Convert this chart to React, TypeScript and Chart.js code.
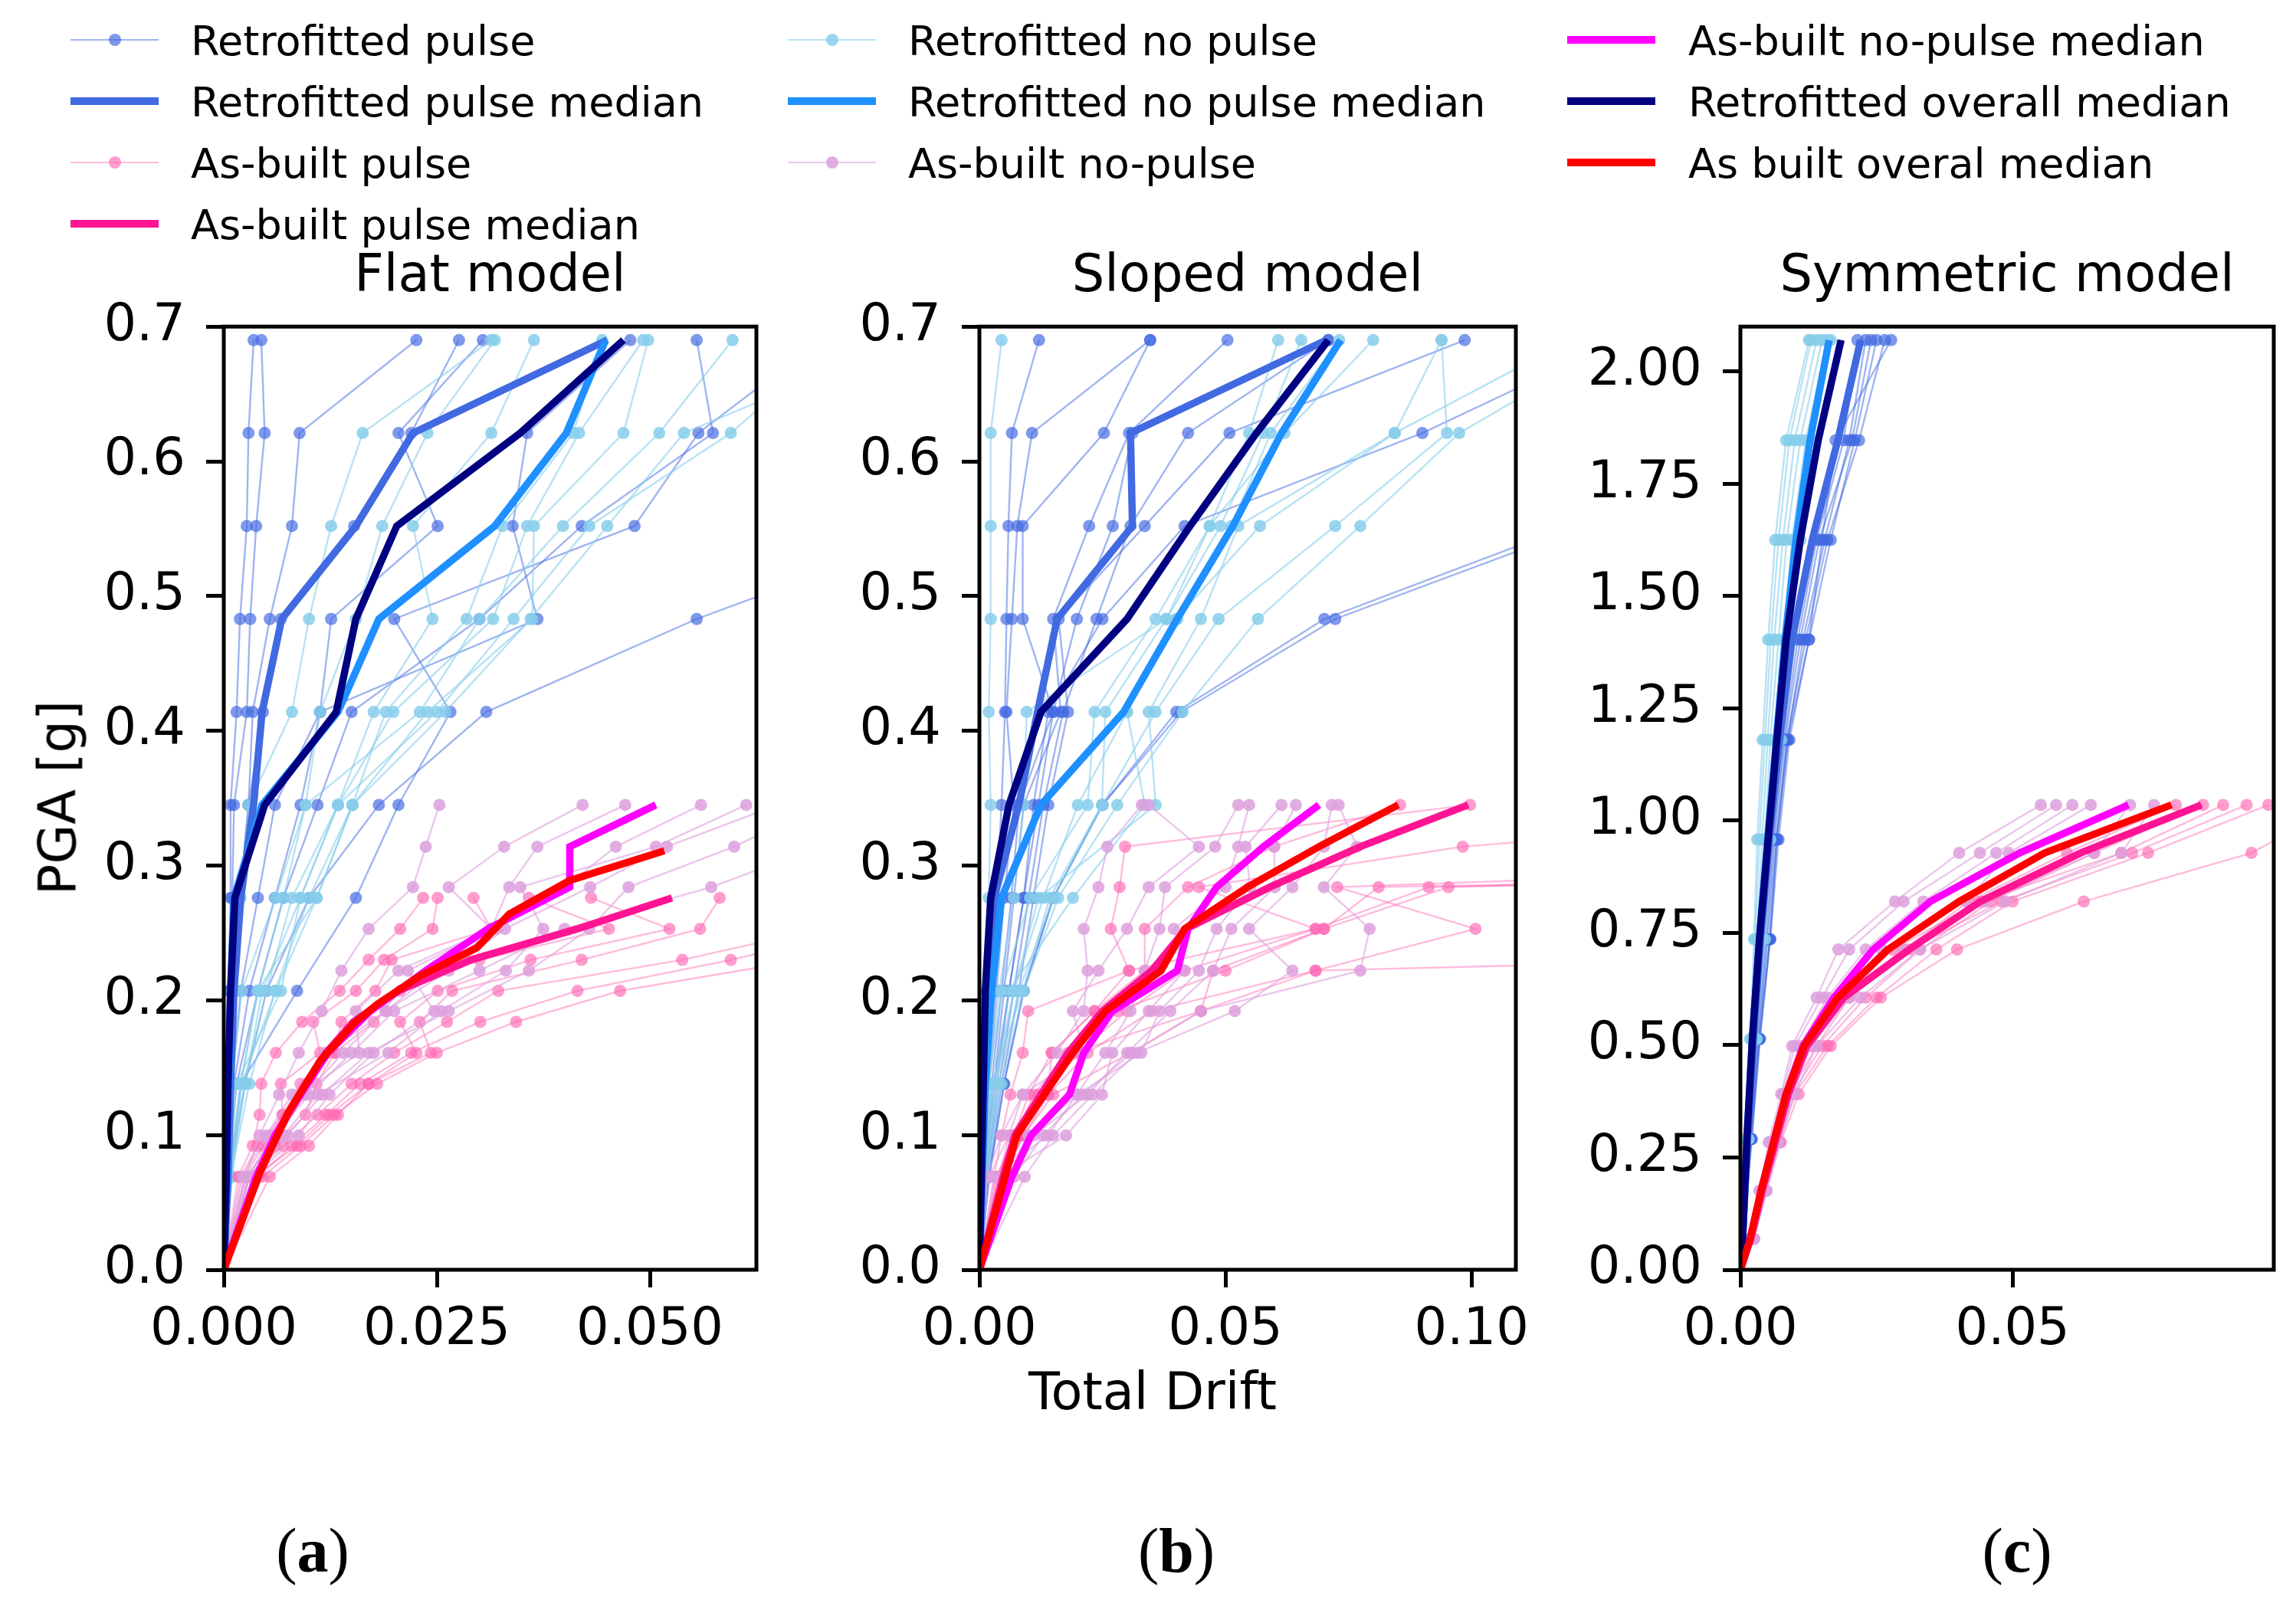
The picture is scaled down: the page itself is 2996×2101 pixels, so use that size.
import React, { useEffect, useRef } from "react";
import { Chart, registerables } from "chart.js";
Chart.register(...registerables);

// ---------------- PGA levels [g] (first entry = origin) ----------------
const RETRO_LEVELS_AB = [0, 0.069, 0.138, 0.207, 0.276, 0.345, 0.414, 0.483, 0.552, 0.621, 0.69];
const RETRO_LEVELS_C = [0, 0.069, 0.291, 0.514, 0.736, 0.958, 1.18, 1.403, 1.625, 1.847, 2.07];
const ASB_PULSE_LEVELS_A = [0, 0.069, 0.092, 0.115, 0.138, 0.161, 0.184, 0.207, 0.23, 0.253, 0.276];
const ASB_LEVELS_AB = [0, 0.069, 0.0997, 0.13, 0.161, 0.192, 0.222, 0.253, 0.284, 0.314, 0.345];
const ASB_LEVELS_C = [0, 0.069, 0.176, 0.284, 0.391, 0.498, 0.606, 0.713, 0.82, 0.928, 1.035];

// ---------------- tick values ----------------
const X_TICKS_A = [0, 0.025, 0.05];
const X_TICKS_B = [0, 0.05, 0.1];
const X_TICKS_C = [0, 0.05];
const Y_TICKS_AB = [0, 0.1, 0.2, 0.3, 0.4, 0.5, 0.6, 0.7];
const Y_TICKS_C = [0, 0.25, 0.5, 0.75, 1.0, 1.25, 1.5, 1.75, 2.0];

// ---------------- Flat model (a): drift per PGA level ----------------
const RETRO_PULSE_A = [
  [0, 0.0002, 0.0004, 0.0006, 0.0008, 0.0008, 0.0015, 0.0019, 0.0027, 0.0029, 0.0035],
  [0, 0.0003, 0.0005, 0.0008, 0.001, 0.0012, 0.0027, 0.0031, 0.0038, 0.0048, 0.0044],
  [0, 0.0003, 0.0006, 0.0008, 0.0019, 0.0029, 0.0034, 0.0054, 0.008, 0.0089, 0.0226],
  [0, 0.0004, 0.0008, 0.0012, 0.0019, 0.0029, 0.0046, 0.0067, 0.0153, 0.022, 0.0276],
  [0, 0.0004, 0.0009, 0.002, 0.004, 0.006, 0.0113, 0.0126, 0.0251, 0.0205, 0.0304],
  [0, 0.0005, 0.0012, 0.003, 0.006, 0.009, 0.0113, 0.0368, 0.0339, 0.0356, 0.0477],
  [0, 0.0006, 0.002, 0.0086, 0.0155, 0.0205, 0.0266, 0.02, 0.0482, 0.0557, 0.07],
  [0, 0.0006, 0.0025, 0.005, 0.01, 0.0182, 0.0308, 0.0555, 0.085],
  [0, 0.0005, 0.0015, 0.004, 0.007, 0.011, 0.015, 0.03, 0.042, 0.0574, 0.0555],
];
const RETRO_NOPULSE_A = [
  [0, 0.0004, 0.0008, 0.001, 0.0019, 0.0029, 0.008, 0.01, 0.0126, 0.0163, 0.0314],
  [0, 0.0005, 0.001, 0.0021, 0.0061, 0.0096, 0.0113, 0.0155, 0.0186, 0.0239, 0.0318],
  [0, 0.0006, 0.0015, 0.0067, 0.009, 0.0134, 0.0176, 0.0245, 0.0222, 0.0314, 0.0364],
  [0, 0.0006, 0.002, 0.004, 0.0109, 0.0151, 0.019, 0.0285, 0.0327, 0.041, 0.0444],
  [0, 0.0007, 0.0025, 0.005, 0.008, 0.0134, 0.0199, 0.0316, 0.0356, 0.0417, 0.0492],
  [0, 0.0008, 0.003, 0.006, 0.01, 0.0151, 0.0239, 0.0362, 0.0364, 0.0469, 0.0498],
  [0, 0.0008, 0.002, 0.004, 0.007, 0.0096, 0.023, 0.03, 0.0398, 0.0511, 0.0597],
  [0, 0.0009, 0.0025, 0.0045, 0.009, 0.0134, 0.025, 0.034, 0.0429, 0.0595, 0.072],
  [0, 0.001, 0.0021, 0.0061, 0.0109, 0.0151, 0.026, 0.036, 0.045, 0.054, 0.08],
];
const ASB_PULSE_A = [
  [0, 0.0017, 0.0034, 0.0042, 0.0044, 0.0061, 0.0092, 0.0136, 0.017, 0.0207, 0.0234],
  [0, 0.002, 0.004, 0.0069, 0.0067, 0.0113, 0.0105, 0.0155, 0.0188, 0.0245, 0.0251],
  [0, 0.0025, 0.0046, 0.0069, 0.009, 0.013, 0.0138, 0.0178, 0.0197, 0.0314, 0.0293],
  [0, 0.003, 0.006, 0.0096, 0.0109, 0.013, 0.0176, 0.0207, 0.03, 0.0452, 0.0358],
  [0, 0.0035, 0.0086, 0.0124, 0.017, 0.0226, 0.0207, 0.0251, 0.036, 0.0523, 0.0431],
  [0, 0.0054, 0.01, 0.0134, 0.017, 0.0243, 0.023, 0.0268, 0.042, 0.0559, 0.0582],
  [0, 0.003, 0.007, 0.011, 0.015, 0.02, 0.0262, 0.0322, 0.0538, 0.07, 0.08],
  [0, 0.004, 0.008, 0.012, 0.016, 0.022, 0.0301, 0.0415, 0.0595, 0.075],
  [0, 0.0045, 0.009, 0.013, 0.018, 0.025, 0.0343, 0.0465, 0.068],
];
const ASB_NOPULSE_A = [
  [0, 0.0025, 0.0042, 0.0065, 0.0088, 0.0115, 0.0138, 0.017, 0.0222, 0.0237, 0.0253],
  [0, 0.003, 0.0055, 0.009, 0.0159, 0.0155, 0.0205, 0.0314, 0.0264, 0.0329, 0.0421],
  [0, 0.0034, 0.0088, 0.0124, 0.0176, 0.0247, 0.0216, 0.0314, 0.0335, 0.0368, 0.0471],
  [0, 0.003, 0.007, 0.011, 0.0193, 0.0255, 0.0331, 0.0375, 0.0348, 0.0507, 0.0613],
  [0, 0.0035, 0.0075, 0.0115, 0.017, 0.0264, 0.0358, 0.0429, 0.0475, 0.0599, 0.07],
  [0, 0.0028, 0.006, 0.01, 0.015, 0.02, 0.03, 0.04, 0.0572, 0.07],
  [0, 0.0022, 0.005, 0.008, 0.012, 0.019, 0.0264, 0.033, 0.043, 0.052, 0.065],
  [0, 0.0026, 0.0065, 0.0095, 0.014, 0.019, 0.025, 0.032, 0.04, 0.046, 0.056],
];
const RETRO_PULSE_MED_A = [0, 0.0005, 0.0008, 0.0012, 0.002, 0.0035, 0.0045, 0.0068, 0.0155, 0.0222, 0.045];
const RETRO_NOPULSE_MED_A = [0, 0.0004, 0.0006, 0.0008, 0.0012, 0.0045, 0.0134, 0.0182, 0.0318, 0.0402, 0.0448];
const RETRO_OVERALL_MED_A = [0, 0.0003, 0.0005, 0.0008, 0.0013, 0.0048, 0.0132, 0.0155, 0.0203, 0.0348, 0.0469];
const ASB_PULSE_MED_A = [0, 0.004, 0.0056, 0.0075, 0.0096, 0.012, 0.0152, 0.0205, 0.029, 0.0415, 0.0526];
const ASB_NOPULSE_MED_A = [0, 0.0038, 0.006, 0.009, 0.0122, 0.0172, 0.0237, 0.031, 0.0406, 0.0406, 0.0507];
const ASB_OVERALL_MED_A_X = [0, 0.0042, 0.0075, 0.0113, 0.0153, 0.018, 0.023, 0.0297, 0.0335, 0.0406, 0.0517];
const ASB_OVERALL_MED_A_Y = [0, 0.0716, 0.116, 0.155, 0.183, 0.197, 0.218, 0.239, 0.264, 0.289, 0.311];

// ---------------- Sloped model (b) ----------------
const RETRO_PULSE_B = [
  [0, 0.0006, 0.0015, 0.0025, 0.0035, 0.0045, 0.0052, 0.0055, 0.0059, 0.0066, 0.0121],
  [0, 0.0008, 0.002, 0.0035, 0.005, 0.007, 0.0055, 0.0066, 0.0077, 0.0107, 0.0347],
  [0, 0.001, 0.0025, 0.0045, 0.0065, 0.0081, 0.015, 0.0088, 0.0088, 0.0253, 0.0347],
  [0, 0.0012, 0.003, 0.005, 0.007, 0.009, 0.0165, 0.015, 0.0223, 0.0304, 0.0504],
  [0, 0.0015, 0.0035, 0.006, 0.009, 0.012, 0.015, 0.0198, 0.0271, 0.0311, 0.0709],
  [0, 0.0015, 0.004, 0.007, 0.01, 0.013, 0.017, 0.0238, 0.0307, 0.0424, 0.0709],
  [0, 0.0018, 0.0045, 0.008, 0.011, 0.014, 0.018, 0.0161, 0.0336, 0.0508, 0.0986],
  [0, 0.002, 0.005, 0.009, 0.015, 0.025, 0.04, 0.0701, 0.12],
  [0, 0.002, 0.005, 0.009, 0.015, 0.025, 0.041, 0.0723, 0.123],
  [0, 0.001, 0.003, 0.006, 0.009, 0.011, 0.014, 0.025, 0.0417, 0.09, 0.13],
];
const RETRO_NOPULSE_B = [
  [0, 0.0005, 0.001, 0.0015, 0.0019, 0.0023, 0.0019, 0.0023, 0.0023, 0.0023, 0.0045],
  [0, 0.0008, 0.0019, 0.0045, 0.0103, 0.022, 0.0234, 0.0358, 0.0468, 0.0548, 0.0607],
  [0, 0.001, 0.0025, 0.0088, 0.0143, 0.0249, 0.0256, 0.038, 0.049, 0.0577, 0.0654],
  [0, 0.0012, 0.003, 0.006, 0.019, 0.0336, 0.03, 0.0402, 0.0512, 0.0592, 0.0731],
  [0, 0.0012, 0.0035, 0.007, 0.012, 0.0358, 0.0344, 0.045, 0.0526, 0.0844, 0.0939],
  [0, 0.0015, 0.004, 0.008, 0.015, 0.025, 0.0358, 0.0486, 0.0723, 0.095, 0.0939],
  [0, 0.0015, 0.0045, 0.009, 0.016, 0.028, 0.0413, 0.0566, 0.0774, 0.0975, 0.13],
  [0, 0.001, 0.003, 0.007, 0.013, 0.02, 0.03, 0.04, 0.057, 0.0844, 0.12],
  [0, 0.0008, 0.002, 0.004, 0.007, 0.009, 0.0096, 0.038, 0.0468, 0.062, 0.08],
];
const ASB_PULSE_B = [
  [0, 0.003, 0.0045, 0.0063, 0.0088, 0.0099, 0.0304, 0.0267, 0.0285, 0.0296, 0.0997],
  [0, 0.004, 0.006, 0.0139, 0.0147, 0.0234, 0.0336, 0.0336, 0.0424, 0.0599, 0.0855],
  [0, 0.0035, 0.007, 0.01, 0.0147, 0.0234, 0.0304, 0.0683, 0.0446, 0.0982, 0.2],
  [0, 0.0045, 0.008, 0.012, 0.019, 0.045, 0.0683, 0.1008, 0.0727, 0.3],
  [0, 0.005, 0.009, 0.015, 0.0307, 0.045, 0.0475, 0.07, 0.0811, 0.5],
  [0, 0.004, 0.0085, 0.013, 0.02, 0.03, 0.0417, 0.0683, 0.0913, 0.5],
  [0, 0.0045, 0.009, 0.014, 0.022, 0.035, 0.0683, 0.4],
  [0, 0.0035, 0.0075, 0.011, 0.018, 0.028, 0.05, 0.07, 0.0953, 0.4],
];
const ASB_NOPULSE_B = [
  [0, 0.0015, 0.0045, 0.0088, 0.0158, 0.0212, 0.022, 0.0212, 0.0242, 0.026, 0.033],
  [0, 0.002, 0.006, 0.0088, 0.0212, 0.019, 0.0242, 0.03, 0.0344, 0.0446, 0.0344],
  [0, 0.003, 0.0139, 0.0198, 0.0256, 0.0307, 0.0336, 0.0366, 0.0377, 0.0479, 0.0526],
  [0, 0.004, 0.0176, 0.0249, 0.027, 0.0344, 0.0417, 0.0395, 0.05, 0.0526, 0.0548],
  [0, 0.005, 0.01, 0.02, 0.0329, 0.0366, 0.0446, 0.0482, 0.055, 0.0541, 0.0614],
  [0, 0.006, 0.011, 0.022, 0.03, 0.0388, 0.0475, 0.0512, 0.06, 0.0599, 0.0643],
  [0, 0.0092, 0.015, 0.023, 0.032, 0.0519, 0.0636, 0.0548, 0.0636, 0.07, 0.0716],
  [0, 0.007, 0.013, 0.021, 0.031, 0.045, 0.0774, 0.0793, 0.07, 0.0767, 0.073],
];
const RETRO_PULSE_MED_B = [0, 0.0004, 0.0008, 0.0015, 0.003, 0.008, 0.0118, 0.0158, 0.0311, 0.0307, 0.0705];
const RETRO_NOPULSE_MED_B = [0, 0.0006, 0.0012, 0.0025, 0.0045, 0.0125, 0.0293, 0.0402, 0.0515, 0.0614, 0.0734];
const RETRO_OVERALL_MED_B = [0, 0.0004, 0.0008, 0.0012, 0.0023, 0.006, 0.0125, 0.03, 0.0428, 0.0563, 0.0709];
const ASB_PULSE_MED_B = [0, 0.0048, 0.0072, 0.0125, 0.018, 0.025, 0.035, 0.042, 0.059, 0.0774, 0.0993];
const ASB_NOPULSE_MED_B = [0, 0.0066, 0.0105, 0.0183, 0.0212, 0.027, 0.0402, 0.0424, 0.0482, 0.0577, 0.069];
const ASB_OVERALL_MED_B = [0, 0.0052, 0.0076, 0.0132, 0.019, 0.0256, 0.0369, 0.0417, 0.0545, 0.069, 0.0851];

// ---------------- Symmetric model (c) ----------------
const RETRO_PULSE_C = [
  [0, 0.0004, 0.0015, 0.003, 0.0045, 0.006, 0.008, 0.0105, 0.014, 0.019, 0.0215],
  [0, 0.0004, 0.0018, 0.0033, 0.005, 0.0065, 0.0087, 0.0115, 0.0155, 0.02, 0.023],
  [0, 0.0005, 0.002, 0.0035, 0.0054, 0.0067, 0.0087, 0.0126, 0.0166, 0.021, 0.025],
  [0, 0.0005, 0.002, 0.0035, 0.0054, 0.0067, 0.0085, 0.012, 0.016, 0.0218, 0.0265],
  [0, 0.0005, 0.0021, 0.0036, 0.0055, 0.007, 0.009, 0.0126, 0.015, 0.0175, 0.0277],
  [0, 0.0004, 0.0017, 0.0032, 0.0048, 0.0062, 0.0082, 0.011, 0.0145, 0.0205, 0.024],
];
const RETRO_NOPULSE_C = [
  [0, 0.0002, 0.0009, 0.0018, 0.0025, 0.0031, 0.0041, 0.0051, 0.0064, 0.0084, 0.0126],
  [0, 0.0003, 0.001, 0.002, 0.0027, 0.0035, 0.0045, 0.0056, 0.007, 0.009, 0.013],
  [0, 0.0003, 0.0011, 0.0022, 0.003, 0.004, 0.005, 0.0062, 0.0078, 0.01, 0.014],
  [0, 0.0003, 0.0012, 0.0025, 0.0035, 0.0045, 0.0055, 0.007, 0.0085, 0.011, 0.015],
  [0, 0.0004, 0.0014, 0.0028, 0.004, 0.005, 0.0065, 0.008, 0.0095, 0.012, 0.016],
  [0, 0.0004, 0.0015, 0.003, 0.0045, 0.0055, 0.0075, 0.009, 0.011, 0.013, 0.0166],
];
const ASB_PULSE_C = [
  [0, 0.002, 0.004, 0.006, 0.008, 0.012, 0.018, 0.03, 0.042, 0.06, 0.08],
  [0, 0.0022, 0.0045, 0.007, 0.0095, 0.015, 0.023, 0.033, 0.046, 0.065, 0.085],
  [0, 0.0025, 0.0048, 0.0074, 0.0107, 0.0166, 0.0258, 0.0398, 0.0631, 0.0939, 0.11],
  [0, 0.002, 0.0042, 0.0065, 0.009, 0.014, 0.02, 0.031, 0.048, 0.072, 0.093],
  [0, 0.0024, 0.0046, 0.0072, 0.01, 0.016, 0.025, 0.036, 0.05, 0.0749, 0.097],
  [0, 0.0021, 0.004, 0.006, 0.0085, 0.013, 0.019, 0.028, 0.044, 0.07, 0.0887],
];
const ASB_NOPULSE_C = [
  [0, 0.0018, 0.0035, 0.0052, 0.0075, 0.0095, 0.014, 0.018, 0.0284, 0.0402, 0.0552],
  [0, 0.002, 0.0038, 0.0055, 0.0078, 0.01, 0.015, 0.02, 0.03, 0.044, 0.058],
  [0, 0.0022, 0.004, 0.006, 0.0081, 0.011, 0.016, 0.023, 0.0336, 0.047, 0.061],
  [0, 0.0024, 0.0042, 0.0064, 0.009, 0.012, 0.018, 0.026, 0.0415, 0.0493, 0.0644],
  [0, 0.0025, 0.0045, 0.0068, 0.0095, 0.013, 0.02, 0.03, 0.045, 0.065, 0.0716],
  [0, 0.0025, 0.0048, 0.007, 0.01, 0.014, 0.022, 0.033, 0.0487, 0.07, 0.076],
];
const RETRO_PULSE_MED_C = [0, 0.0004, 0.0013, 0.0024, 0.0037, 0.0053, 0.0072, 0.0095, 0.0132, 0.0179, 0.0221];
const RETRO_NOPULSE_MED_C = [0, 0.0004, 0.0012, 0.0022, 0.0035, 0.005, 0.0066, 0.0082, 0.0102, 0.0128, 0.0163];
const RETRO_OVERALL_MED_C = [0, 0.0004, 0.0012, 0.0022, 0.0035, 0.0051, 0.0067, 0.0084, 0.011, 0.0143, 0.0185];
const ASB_PULSE_MED_C = [0, 0.0019, 0.004, 0.0064, 0.0088, 0.0122, 0.019, 0.031, 0.0441, 0.0625, 0.0847];
const ASB_NOPULSE_MED_C = [0, 0.0018, 0.0038, 0.0061, 0.0084, 0.0115, 0.0172, 0.0244, 0.0349, 0.0513, 0.0713];
const ASB_OVERALL_MED_C = [0, 0.0018, 0.0038, 0.0061, 0.0084, 0.0117, 0.0179, 0.0271, 0.0402, 0.0559, 0.0792];

// ---------------- styles ----------------
const FONT = "'DejaVu Sans', sans-serif";
const STYLE = {
  retroPulse: { line: "rgba(65,105,225,0.5)", point: "rgba(65,105,225,0.68)" },
  retroNoPulse: { line: "rgba(135,206,235,0.6)", point: "rgba(135,206,235,0.85)" },
  asbPulse: { line: "rgba(255,105,180,0.45)", point: "rgba(255,105,180,0.65)" },
  asbNoPulse: { line: "rgba(221,160,221,0.6)", point: "rgba(221,160,221,0.85)" },
};
const MED = {
  retroPulse: "#4169E1",
  retroNoPulse: "#1E90FF",
  asbPulse: "#FF1493",
  asbNoPulse: "#FF00FF",
  retroAll: "#000080",
  asbAll: "#FF0000",
};

const PLOT_TOP = 419;
const PLOT_BOTTOM = 1657;
const Y_AXIS_W = 240;
const X_AXIS_H = 150;
const PAD_T = 60;
const PAD_R = 60;
const MARKER_R = 8;
const MEDIAN_W = 9.5;

function toPts(xs: number[], ys: number[]) {
  return xs.map((x, i) => ({ x, y: ys[i] }));
}

function recordSets(records: number[][], levels: number[], st: { line: string; point: string }) {
  return records.map((r) => ({
    data: toPts(r, levels),
    borderColor: st.line,
    backgroundColor: st.point,
    pointBackgroundColor: st.point,
    pointBorderWidth: 0,
    pointRadius: (ctx: any) => (ctx.dataIndex === 0 ? 0 : MARKER_R),
    pointHoverRadius: 0,
    borderWidth: 2.4,
    tension: 0,
    fill: false,
    clip: 0,
  }));
}

function medianSet(xs: number[], ys: number[], color: string) {
  return {
    data: toPts(xs, ys),
    borderColor: color,
    backgroundColor: color,
    pointRadius: 0,
    pointHoverRadius: 0,
    borderWidth: MEDIAN_W,
    tension: 0,
    fill: false,
    clip: 0,
    borderJoinStyle: "miter" as const,
  };
}

type Panel = {
  title: string;
  label: string;
  left: number;
  right: number;
  xMax: number;
  yMax: number;
  xTicks: number[];
  yTicks: number[];
  xDec: number;
  yDec: number;
  datasets: any[];
};

const PANELS: Panel[] = [
  {
    title: "Flat model",
    label: "a",
    left: 292,
    right: 987,
    xMax: 0.0625,
    yMax: 0.7,
    xTicks: X_TICKS_A,
    yTicks: Y_TICKS_AB,
    xDec: 3,
    yDec: 1,
    datasets: [
      ...recordSets(RETRO_PULSE_A, RETRO_LEVELS_AB, STYLE.retroPulse),
      ...recordSets(RETRO_NOPULSE_A, RETRO_LEVELS_AB, STYLE.retroNoPulse),
      ...recordSets(ASB_PULSE_A, ASB_PULSE_LEVELS_A, STYLE.asbPulse),
      ...recordSets(ASB_NOPULSE_A, ASB_LEVELS_AB, STYLE.asbNoPulse),
      medianSet(RETRO_PULSE_MED_A, RETRO_LEVELS_AB, MED.retroPulse),
      medianSet(RETRO_NOPULSE_MED_A, RETRO_LEVELS_AB, MED.retroNoPulse),
      medianSet(ASB_PULSE_MED_A, ASB_PULSE_LEVELS_A, MED.asbPulse),
      medianSet(ASB_NOPULSE_MED_A, ASB_LEVELS_AB, MED.asbNoPulse),
      medianSet(RETRO_OVERALL_MED_A, RETRO_LEVELS_AB, MED.retroAll),
      medianSet(ASB_OVERALL_MED_A_X, ASB_OVERALL_MED_A_Y, MED.asbAll),
    ],
  },
  {
    title: "Sloped model",
    label: "b",
    left: 1278,
    right: 1978,
    xMax: 0.109,
    yMax: 0.7,
    xTicks: X_TICKS_B,
    yTicks: Y_TICKS_AB,
    xDec: 2,
    yDec: 1,
    datasets: [
      ...recordSets(RETRO_PULSE_B, RETRO_LEVELS_AB, STYLE.retroPulse),
      ...recordSets(RETRO_NOPULSE_B, RETRO_LEVELS_AB, STYLE.retroNoPulse),
      ...recordSets(ASB_PULSE_B, ASB_LEVELS_AB, STYLE.asbPulse),
      ...recordSets(ASB_NOPULSE_B, ASB_LEVELS_AB, STYLE.asbNoPulse),
      medianSet(RETRO_PULSE_MED_B, RETRO_LEVELS_AB, MED.retroPulse),
      medianSet(RETRO_NOPULSE_MED_B, RETRO_LEVELS_AB, MED.retroNoPulse),
      medianSet(ASB_PULSE_MED_B, ASB_LEVELS_AB, MED.asbPulse),
      medianSet(ASB_NOPULSE_MED_B, ASB_LEVELS_AB, MED.asbNoPulse),
      medianSet(RETRO_OVERALL_MED_B, RETRO_LEVELS_AB, MED.retroAll),
      medianSet(ASB_OVERALL_MED_B, ASB_LEVELS_AB, MED.asbAll),
    ],
  },
  {
    title: "Symmetric model",
    label: "c",
    left: 2271,
    right: 2967,
    xMax: 0.098,
    yMax: 2.1,
    xTicks: X_TICKS_C,
    yTicks: Y_TICKS_C,
    xDec: 2,
    yDec: 2,
    datasets: [
      ...recordSets(RETRO_PULSE_C, RETRO_LEVELS_C, STYLE.retroPulse),
      ...recordSets(RETRO_NOPULSE_C, RETRO_LEVELS_C, STYLE.retroNoPulse),
      ...recordSets(ASB_PULSE_C, ASB_LEVELS_C, STYLE.asbPulse),
      ...recordSets(ASB_NOPULSE_C, ASB_LEVELS_C, STYLE.asbNoPulse),
      medianSet(RETRO_PULSE_MED_C, RETRO_LEVELS_C, MED.retroPulse),
      medianSet(RETRO_NOPULSE_MED_C, RETRO_LEVELS_C, MED.retroNoPulse),
      medianSet(ASB_PULSE_MED_C, ASB_LEVELS_C, MED.asbPulse),
      medianSet(ASB_NOPULSE_MED_C, ASB_LEVELS_C, MED.asbNoPulse),
      medianSet(RETRO_OVERALL_MED_C, RETRO_LEVELS_C, MED.retroAll),
      medianSet(ASB_OVERALL_MED_C, ASB_LEVELS_C, MED.asbAll),
    ],
  },
];

const framePlugin = {
  id: "frame",
  afterDatasetsDraw(chart: any) {
    const { ctx, chartArea } = chart;
    ctx.save();
    ctx.strokeStyle = "#000";
    ctx.lineWidth = 5;
    ctx.strokeRect(chartArea.left, chartArea.top, chartArea.right - chartArea.left, chartArea.bottom - chartArea.top);
    ctx.restore();
  },
};

function makeConfig(p: Panel): any {
  const n = p.datasets.length;
  const datasets = p.datasets.map((d, i) => ({ ...d, order: n - i }));
  const tickFont = { family: FONT, size: 67 };
  return {
    type: "line",
    data: { datasets },
    plugins: [framePlugin],
    options: {
      animation: false,
      responsive: false,
      devicePixelRatio: 1,
      events: [],
      layout: { padding: { left: 0, top: PAD_T, right: PAD_R, bottom: 0 } },
      plugins: { legend: { display: false }, tooltip: { enabled: false }, title: { display: false } },
      scales: {
        x: {
          type: "linear",
          min: 0,
          max: p.xMax,
          afterBuildTicks: (s: any) => {
            s.ticks = p.xTicks.map((v) => ({ value: v }));
          },
          afterFit: (s: any) => {
            s.height = X_AXIS_H;
          },
          ticks: {
            callback: (v: any) => Number(v).toFixed(p.xDec),
            font: tickFont,
            color: "#000",
            padding: 16,
            maxRotation: 0,
            minRotation: 0,
            autoSkip: false,
          },
          grid: { display: true, drawOnChartArea: false, drawTicks: true, tickLength: 23, tickWidth: 5, tickColor: "#000", color: "#000" },
          border: { display: false },
        },
        y: {
          type: "linear",
          min: 0,
          max: p.yMax,
          afterBuildTicks: (s: any) => {
            s.ticks = p.yTicks.map((v) => ({ value: v }));
          },
          afterFit: (s: any) => {
            s.width = Y_AXIS_W;
          },
          ticks: {
            callback: (v: any) => Number(v).toFixed(p.yDec),
            font: tickFont,
            color: "#000",
            padding: 27,
            autoSkip: false,
          },
          grid: { display: true, drawOnChartArea: false, drawTicks: true, tickLength: 23, tickWidth: 5, tickColor: "#000", color: "#000" },
          border: { display: false },
        },
      },
    },
  };
}

type LegendItem = { text: string; kind: "record" | "median"; line: string; point?: string };
const LEGEND_COLUMNS: LegendItem[][] = [
  [
    { text: "Retrofitted pulse", kind: "record", line: STYLE.retroPulse.line, point: STYLE.retroPulse.point },
    { text: "Retrofitted pulse median", kind: "median", line: MED.retroPulse },
    { text: "As-built pulse", kind: "record", line: STYLE.asbPulse.line, point: STYLE.asbPulse.point },
    { text: "As-built pulse median", kind: "median", line: MED.asbPulse },
  ],
  [
    { text: "Retrofitted no pulse", kind: "record", line: STYLE.retroNoPulse.line, point: STYLE.retroNoPulse.point },
    { text: "Retrofitted no pulse median", kind: "median", line: MED.retroNoPulse },
    { text: "As-built no-pulse", kind: "record", line: STYLE.asbNoPulse.line, point: STYLE.asbNoPulse.point },
  ],
  [
    { text: "As-built no-pulse median", kind: "median", line: MED.asbNoPulse },
    { text: "Retrofitted overall median", kind: "median", line: MED.retroAll },
    { text: "As built overal median", kind: "median", line: MED.asbAll },
  ],
];
const LEGEND_HANDLE_X = [92, 1028, 2045];
const LEGEND_TEXT_X = [249, 1185, 2203];
const LEGEND_ROW_Y = [52, 132, 212, 292];

function Legend() {
  const out: any[] = [];
  LEGEND_COLUMNS.forEach((col, ci) => {
    col.forEach((it, ri) => {
      const cy = LEGEND_ROW_Y[ri];
      const hx = LEGEND_HANDLE_X[ci];
      const lw = it.kind === "median" ? MEDIAN_W : 2.4;
      out.push(
        <div
          key={`h${ci}-${ri}`}
          style={{ position: "absolute", left: hx, top: cy - lw / 2, width: 115, height: lw, background: it.line }}
        />
      );
      if (it.kind === "record") {
        out.push(
          <div
            key={`m${ci}-${ri}`}
            style={{
              position: "absolute",
              left: hx + 57.5 - MARKER_R,
              top: cy - MARKER_R,
              width: MARKER_R * 2,
              height: MARKER_R * 2,
              borderRadius: "50%",
              background: it.point,
            }}
          />
        );
      }
      out.push(
        <div
          key={`t${ci}-${ri}`}
          style={{
            position: "absolute",
            left: LEGEND_TEXT_X[ci],
            top: cy - 25,
            fontFamily: FONT,
            fontSize: 54,
            lineHeight: "54px",
            whiteSpace: "nowrap",
            color: "#000",
          }}
        >
          {it.text}
        </div>
      );
    });
  });
  return <>{out}</>;
}

const PANEL_LABEL_X = [408, 1535, 2632];

export default function App() {
  const r0 = useRef<HTMLCanvasElement>(null);
  const r1 = useRef<HTMLCanvasElement>(null);
  const r2 = useRef<HTMLCanvasElement>(null);
  const refs = [r0, r1, r2];

  useEffect(() => {
    const charts: Chart[] = [];
    PANELS.forEach((p, i) => {
      const c = refs[i].current;
      if (c) charts.push(new Chart(c, makeConfig(p)));
    });
    return () => charts.forEach((c) => c.destroy());
  }, []);

  return (
    <div
      style={{
        position: "absolute",
        left: 0,
        top: 0,
        width: 2996,
        height: 2101,
        background: "#fff",
        overflow: "hidden",
        fontFamily: FONT,
        color: "#000",
      }}
    >
      <Legend />
      {PANELS.map((p, i) => {
        const w = p.right - p.left + Y_AXIS_W + PAD_R;
        const h = PLOT_BOTTOM - PLOT_TOP + PAD_T + X_AXIS_H;
        return (
          <canvas
            key={`c${i}`}
            ref={refs[i]}
            width={w}
            height={h}
            style={{ position: "absolute", left: p.left - Y_AXIS_W, top: PLOT_TOP - PAD_T, width: w, height: h }}
          />
        );
      })}
      {PANELS.map((p, i) => (
        <div
          key={`t${i}`}
          style={{
            position: "absolute",
            left: p.left,
            width: p.right - p.left,
            top: 324,
            textAlign: "center",
            fontFamily: FONT,
            fontSize: 67,
            lineHeight: "67px",
            whiteSpace: "nowrap",
          }}
        >
          {p.title}
        </div>
      ))}
      <div
        style={{
          position: "absolute",
          left: 1204,
          width: 600,
          top: 1783,
          textAlign: "center",
          fontFamily: FONT,
          fontSize: 67,
          lineHeight: "67px",
          whiteSpace: "nowrap",
        }}
      >
        Total Drift
      </div>
      <div
        style={{
          position: "absolute",
          left: 76,
          top: 1041,
          transform: "translate(-50%, -50%) rotate(-90deg)",
          fontFamily: FONT,
          fontSize: 67,
          lineHeight: "67px",
          whiteSpace: "nowrap",
        }}
      >
        PGA [g]
      </div>
      {PANELS.map((p, i) => (
        <div
          key={`l${i}`}
          style={{
            position: "absolute",
            left: PANEL_LABEL_X[i] - 150,
            width: 300,
            top: 1983,
            textAlign: "center",
            fontFamily: "'Liberation Serif', 'Times New Roman', serif",
            fontSize: 82,
            lineHeight: "82px",
            whiteSpace: "nowrap",
          }}
        >
          (<b>{p.label}</b>)
        </div>
      ))}
    </div>
  );
}
